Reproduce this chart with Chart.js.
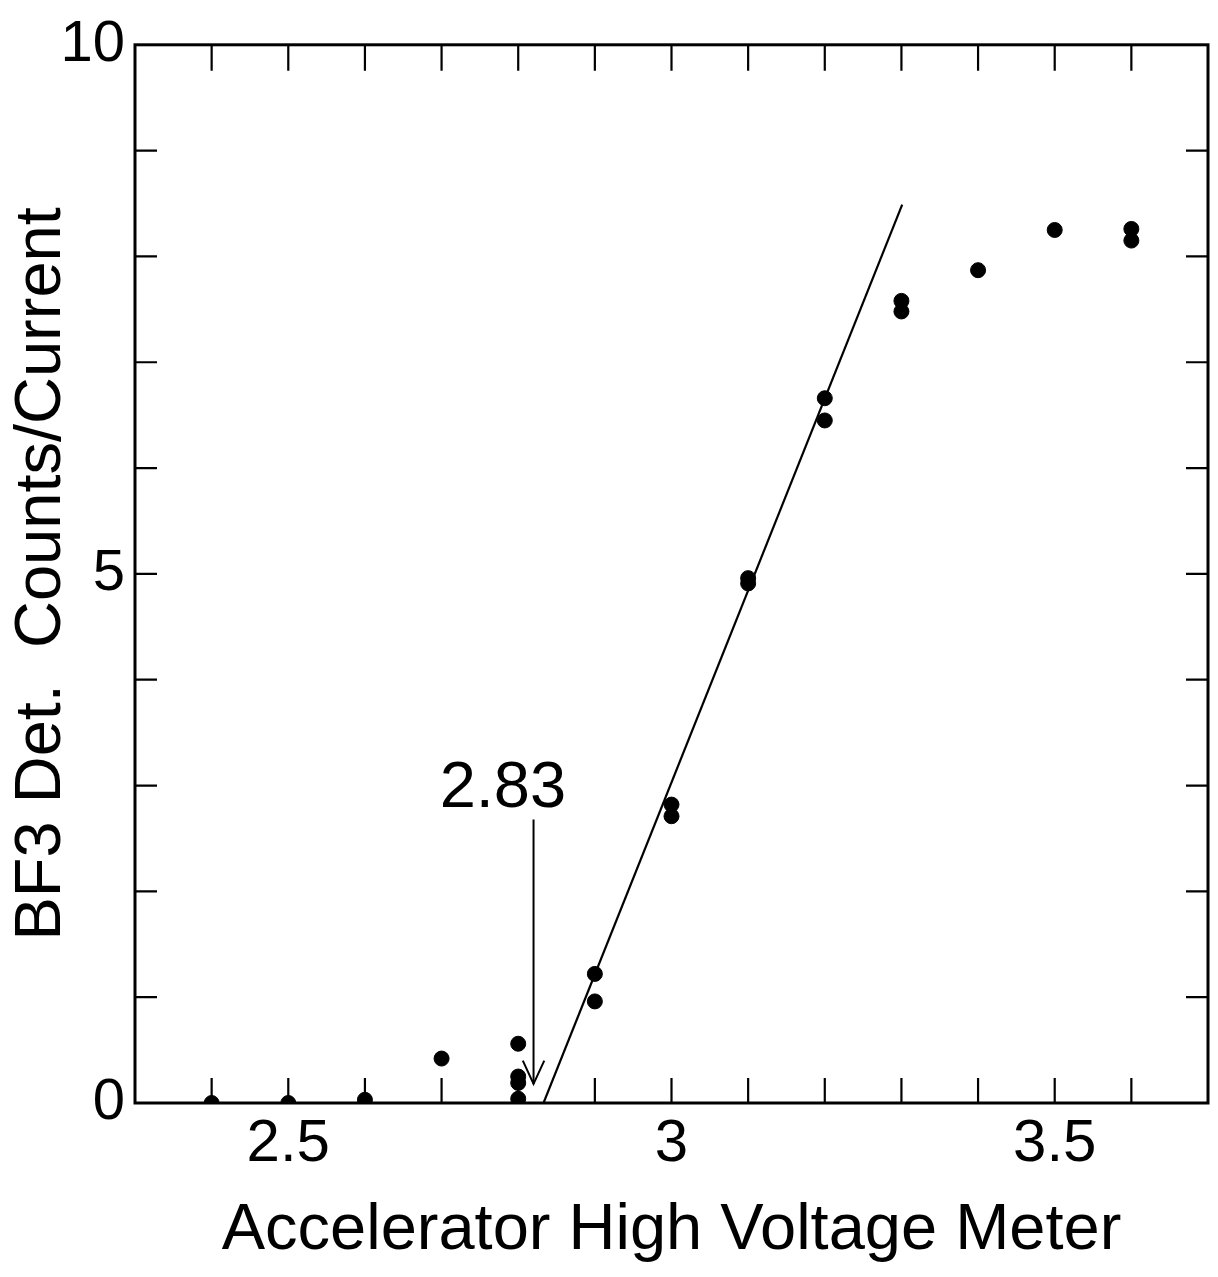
<!DOCTYPE html>
<html><head><meta charset="utf-8">
<script src="https://cdn.jsdelivr.net/npm/chart.js@4/dist/chart.umd.min.js"></script>
<style>html,body{margin:0;padding:0;background:#fff;} #wrap{width:1218px;height:1277px;}</style>
</head><body><div id="wrap"><canvas id="c" width="1218" height="1277"></canvas></div>
<script>
// Measured points (x = accelerator HV meter, y = BF3 counts/current)
const xValues = [2.4, 2.5, 2.6, 2.7, 2.8, 2.8, 2.8, 2.8, 2.9, 2.9, 3.0, 3.0, 3.1, 3.1, 3.2, 3.2, 3.3, 3.3, 3.4, 3.5, 3.6, 3.6];
const yValues = [0.0, 0.0, 0.03, 0.42, 0.56, 0.25, 0.19, 0.04, 1.22, 0.96, 2.82, 2.71, 4.96, 4.91, 6.66, 6.45, 7.58, 7.48, 7.87, 8.25, 8.26, 8.15];
// Linear fit line
const fitX = [2.833, 3.301];
const fitY = [0, 8.49];
// Threshold arrow
const arrowX = [2.82, 2.82];
const arrowY = [2.68, 0.18];
const headX = [2.806, 2.82, 2.834];
const headY = [0.40, 0.18, 0.40];
const noteText = '2.83';
const noteX = 2.78;
const noteY = 2.80;
// Axes
const xTickLabels = [2.5, 3, 3.5];
const yTickLabels = [0, 5, 10];
const xTitle = 'Accelerator High Voltage Meter';
const yTitle = 'BF3 Det.  Counts/Current';

const FONT = '"Liberation Sans", Arial, Helvetica, sans-serif';
Chart.defaults.font.family = FONT;
Chart.defaults.color = '#000';

const zip = (xs, ys) => xs.map((x, i) => ({x: x, y: ys[i]}));
const near = (v, arr) => arr.some(a => Math.abs(a - v) < 1e-6);

const framePlugin = {
  id: 'frame',
  beforeDatasetsDraw(chart) {
    const {ctx, chartArea: a, scales: {x, y}} = chart;
    ctx.save();
    ctx.strokeStyle = '#000';
    ctx.lineWidth = 3;
    ctx.strokeRect(a.left, a.top, a.right - a.left, a.bottom - a.top);
    ctx.lineWidth = 2.2;
    ctx.beginPath();
    x.ticks.forEach(t => {
      if (t.value <= x.min + 1e-6 || t.value >= x.max - 1e-6) return;
      const px = x.getPixelForValue(t.value);
      ctx.moveTo(px, a.bottom); ctx.lineTo(px, a.bottom - 25);
      ctx.moveTo(px, a.top); ctx.lineTo(px, a.top + 26);
    });
    y.ticks.forEach(t => {
      if (t.value <= y.min + 1e-6 || t.value >= y.max - 1e-6) return;
      const py = y.getPixelForValue(t.value);
      ctx.moveTo(a.left, py); ctx.lineTo(a.left + 22, py);
      ctx.moveTo(a.right, py); ctx.lineTo(a.right - 22, py);
    });
    ctx.stroke();
    ctx.restore();
  },
  afterDraw(chart) {
    const {ctx, scales: {x, y}} = chart;
    ctx.save();
    ctx.fillStyle = '#000';
    ctx.font = '65px ' + FONT;
    ctx.textAlign = 'center';
    ctx.textBaseline = 'alphabetic';
    ctx.fillText(noteText, x.getPixelForValue(noteX), y.getPixelForValue(noteY));
    ctx.restore();
  }
};

new Chart(document.getElementById('c'), {
  type: 'scatter',
  data: {
    datasets: [
      { label: 'data', data: zip(xValues, yValues), backgroundColor: '#000', borderColor: '#000',
        pointRadius: 7.5, pointHoverRadius: 7.5, showLine: false },
      { label: 'fit', data: zip(fitX, fitY), showLine: true, borderColor: '#000', borderWidth: 2.2,
        pointRadius: 0, fill: false },
      { label: 'arrow', data: zip(arrowX, arrowY), showLine: true, borderColor: '#000', borderWidth: 2,
        pointRadius: 0, fill: false },
      { label: 'head', data: zip(headX, headY), showLine: true, borderColor: '#000', borderWidth: 2,
        pointRadius: 0, fill: false }
    ]
  },
  options: {
    responsive: false,
    animation: false,
    devicePixelRatio: 1,
    layout: { padding: { top: 40, right: 10, left: 0, bottom: 0 } },
    plugins: { legend: { display: false }, tooltip: { enabled: false } },
    scales: {
      x: {
        type: 'linear', position: 'bottom', min: 2.3, max: 3.7,
        grid: { display: false, drawTicks: false },
        border: { display: false },
        ticks: {
          stepSize: 0.1, autoSkip: false, maxRotation: 0, padding: 5,
          font: { size: 60 }, color: '#000',
          callback: v => near(v, xTickLabels) ? String(Math.round(v * 10) / 10) : ''
        },
        title: { display: true, text: xTitle, font: { size: 65 }, color: '#000', padding: { top: 0, bottom: 7 } },
        afterFit: s => { s.height = 174; }
      },
      y: {
        type: 'linear', position: 'left', min: 0, max: 10,
        grid: { display: false, drawTicks: false },
        border: { display: false },
        ticks: {
          stepSize: 1, autoSkip: false, padding: 10,
          font: { size: 58 }, color: '#000',
          callback: v => near(v, yTickLabels) ? String(v) : ''
        },
        title: { display: true, text: yTitle, font: { size: 65 }, color: '#000', padding: { top: 3, bottom: 0 } },
        afterFit: s => { s.width = 135; }
      }
    }
  },
  plugins: [framePlugin]
});
</script></body></html>
